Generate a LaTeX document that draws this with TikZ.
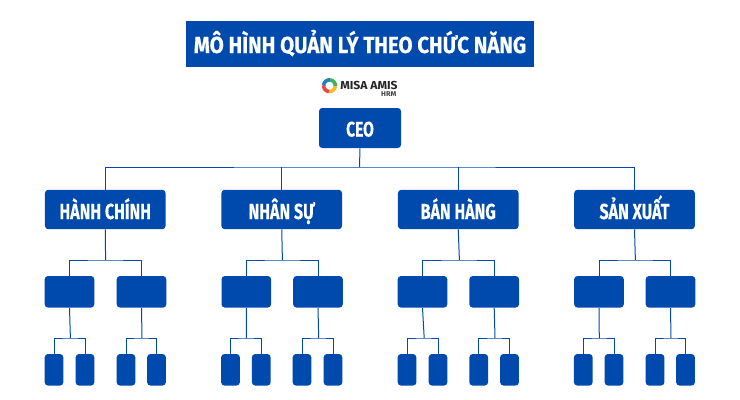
\documentclass[tikz,border=0pt]{standalone}
\usepackage{fontspec}
\setmainfont{Fira Sans}[BoldFont=* Bold]
\newfontfamily\titlefont{Fira Sans Bold}[FakeStretch=0.88,FakeBold=0.5]
\newfontfamily\labelfont{Fira Sans Bold}[FakeStretch=0.74,FakeBold=0.3]
\newfontfamily\logofont{Fira Sans Bold}[FakeStretch=1.05]
\definecolor{brand}{HTML}{004AAD}
\newcommand{\branch}[5]{%
  \coordinate (#1-j) at (#2,#3);
  \draw[wire] (#1.south) -- (#1-j);
  \draw[wire] (#4.north) |- (#1-j) -| (#5.north);
}
\tikzset{
  x=0.75pt, y=-0.75pt,
  wire/.style={draw=brand, line width=0.75pt},
  block/.style={fill=brand, text=white, inner sep=0pt, rounded corners=2.4pt, align=center},
  ceobox/.style={block, minimum width=61.5pt, minimum height=30pt, text height=12.75pt, text depth=0pt, font=\labelfont\fontsize{15.8}{15.8}\selectfont},
  deptbox/.style={block, minimum width=90.4pt, minimum height=29.5pt, text height=14.25pt, text depth=0pt, font=\labelfont\fontsize{16.3}{16.3}\selectfont},
  teambox/.style={block, minimum width=37.2pt, minimum height=23.6pt},
  leafbox/.style={block, minimum width=14pt, minimum height=23.6pt},
  arcpiece/.style={line width=2.7pt},
}
\begin{document}
\begin{tikzpicture}
\useasboundingbox (0,0) rectangle (740,400);
\fill[white] (0,0) rectangle (740,400);
% title
\node[fill=brand, text=white, inner sep=0pt, minimum width=261pt, minimum height=34.5pt, text height=13.5pt, text depth=0pt, font=\titlefont\fontsize{17.4}{17.4}\selectfont] (title) at (360,44) {MÔ HÌNH QUẢN LÝ THEO CHỨC NĂNG};
% logo
\coordinate (ring) at (329.5,85.7);
\begin{scope}[shift={(ring)}, x=1pt, y=1pt]
\draw[arcpiece, color={rgb,255:red,64;green,176;blue,96}] (85:4.4) arc[start angle=85, end angle=-5, radius=4.4pt];
\draw[arcpiece, color={rgb,255:red,245;green,190;blue,40}] (-5:4.4) arc[start angle=-5, end angle=-95, radius=4.4pt];
\draw[arcpiece, color={rgb,255:red,235;green,70;blue,70}] (-95:4.4) arc[start angle=-95, end angle=-185, radius=4.4pt];
\draw[arcpiece, color={rgb,255:red,30;green,130;blue,190}] (175:4.4) arc[start angle=175, end angle=85, radius=4.4pt];
\end{scope}
\node[inner sep=0pt, anchor=west, text=black!85, font=\logofont\fontsize{8.7}{8.7}\selectfont] (misa) at (340,85.7) {MISA AMIS};
\node[inner sep=0pt, anchor=east, text=black!75, font=\logofont\fontsize{5.2}{5.2}\selectfont] (hrm) at (396.5,94.5) {HRM};
% ceo
\node[ceobox] (ceo) at (360,128) {CEO};
% departments
\node[deptbox] (d1) at (105.25,209.5) {HÀNH CHÍNH};
\node[deptbox] (d2) at (281.75,209.5) {NHÂN SỰ};
\node[deptbox] (d3) at (458.25,209.5) {BÁN HÀNG};
\node[deptbox] (d4) at (634.5,209.5) {SẢN XUẤT};
% teams
\node[teambox] (t1) at (69.5,291.8) {};
\node[teambox] (t2) at (141.5,291.8) {};
\node[teambox] (t3) at (246.3,291.8) {};
\node[teambox] (t4) at (318,291.8) {};
\node[teambox] (t5) at (422.5,291.8) {};
\node[teambox] (t6) at (494.2,291.8) {};
\node[teambox] (t7) at (599,291.8) {};
\node[teambox] (t8) at (670.5,291.8) {};
% leaves
\node[leafbox] (l1) at (54,369.8) {};
\node[leafbox] (l2) at (85,369.8) {};
\node[leafbox] (l3) at (126,369.8) {};
\node[leafbox] (l4) at (156.5,369.8) {};
\node[leafbox] (l5) at (230.5,369.8) {};
\node[leafbox] (l6) at (261.3,369.8) {};
\node[leafbox] (l7) at (302,369.8) {};
\node[leafbox] (l8) at (333,369.8) {};
\node[leafbox] (l9) at (407,369.8) {};
\node[leafbox] (l10) at (438,369.8) {};
\node[leafbox] (l11) at (478.7,369.8) {};
\node[leafbox] (l12) at (509.5,369.8) {};
\node[leafbox] (l13) at (583.3,369.8) {};
\node[leafbox] (l14) at (614,369.8) {};
\node[leafbox] (l15) at (655,369.8) {};
\node[leafbox] (l16) at (685.5,369.8) {};
% connectors
\coordinate (top) at (359.5,167);
\draw[wire] (ceo.south) -- (top);
\draw[wire] (d1.north) |- (top) -| (d4.north);
\draw[wire] (d2.north) -- (d2.north |- top);
\draw[wire] (d3.north) -- (d3.north |- top);
\branch{d1}{105.6}{260}{t1}{t2}
\branch{d2}{282.4}{260}{t3}{t4}
\branch{d3}{459.4}{260}{t5}{t6}
\branch{d4}{635.4}{260}{t7}{t8}
\branch{t1}{70.4}{338}{l1}{l2}
\branch{t2}{142}{338}{l3}{l4}
\branch{t3}{246.4}{338}{l5}{l6}
\branch{t4}{318.7}{338}{l7}{l8}
\branch{t5}{424.2}{338}{l9}{l10}
\branch{t6}{495}{338}{l11}{l12}
\branch{t7}{599.3}{338}{l13}{l14}
\branch{t8}{671}{338}{l15}{l16}
\end{tikzpicture}
\end{document}
